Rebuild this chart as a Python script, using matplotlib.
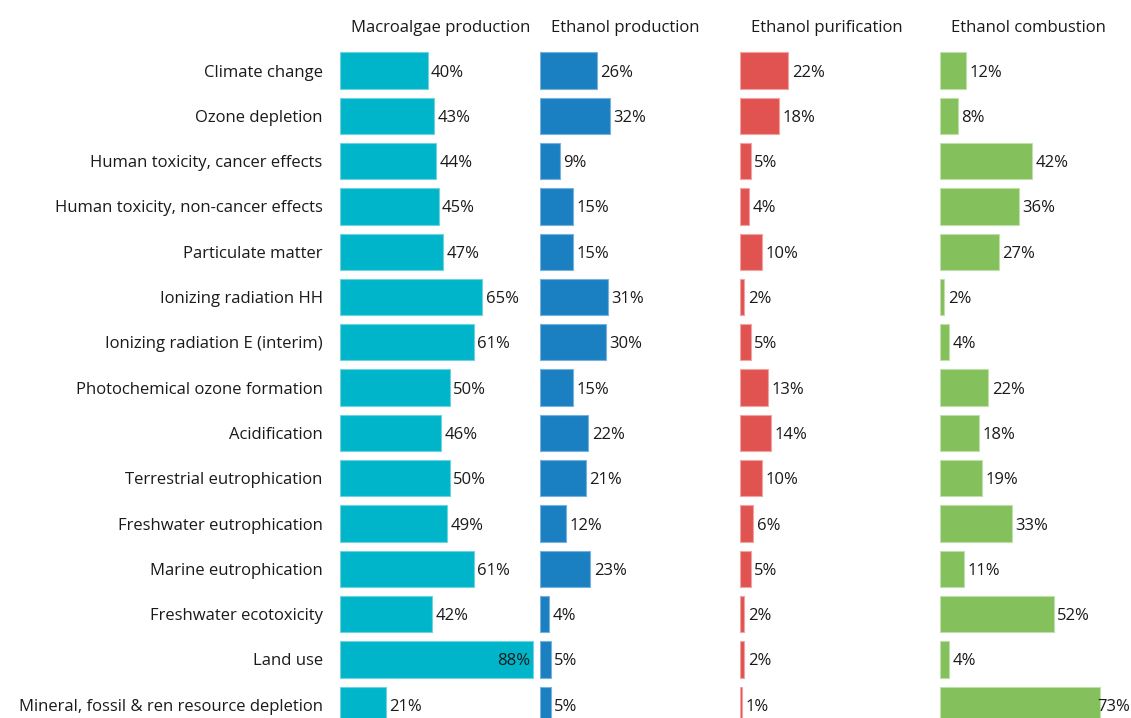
import matplotlib
matplotlib.use("Agg")
import matplotlib.pyplot as plt

plt.rcParams['font.family'] = ['Open Sans', 'DejaVu Sans']

categories = [
    "Climate change", "Ozone depletion", "Human toxicity, cancer effects",
    "Human toxicity, non-cancer effects", "Particulate matter",
    "Ionizing radiation HH", "Ionizing radiation E (interim)",
    "Photochemical ozone formation", "Acidification",
    "Terrestrial eutrophication", "Freshwater eutrophication",
    "Marine eutrophication", "Freshwater ecotoxicity", "Land use",
    "Mineral, fossil & ren resource depletion",
]
stages = ["Macroalgae production", "Ethanol production",
          "Ethanol purification", "Ethanol combustion"]
macroalgae_production = [40, 43, 44, 45, 47, 65, 61, 50, 46, 50, 49, 61, 42, 88, 21]
ethanol_production = [26, 32, 9, 15, 15, 31, 30, 15, 22, 21, 12, 23, 4, 5, 5]
ethanol_purification = [22, 18, 5, 4, 10, 2, 5, 13, 14, 10, 6, 5, 2, 2, 1]
ethanol_combustion = [12, 8, 42, 36, 27, 2, 4, 22, 18, 19, 33, 11, 52, 4, 73]
series = [macroalgae_production, ethanol_production,
          ethanol_purification, ethanol_combustion]
colors = ["#00B5CA", "#1B80C1", "#E05350", "#84C05B"]
edge_colors = ["#6FD3DE", "#78B2D9", "#F0A3A1", "#BFE0A8"]

W, H = 1131, 718
fig = plt.figure(figsize=(W / 100, H / 100), dpi=100)

n = len(categories)
row_h = 45.3
top_px = 70.5 - row_h / 2
bottom_px = top_px + n * row_h
panel_x0 = 340
panel_w = 200
px_per_unit = 2.19
xmax = panel_w / px_per_unit

label_fs = 12
txt_color = "#1a1a1a"
value_texts = []
for i, (name, vals, c, ec) in enumerate(zip(stages, series, colors, edge_colors)):
    left = (panel_x0 + i * panel_w) / W
    ax = fig.add_axes([left, (H - bottom_px) / H, panel_w / W, (bottom_px - top_px) / H])
    ypos = list(range(n))
    ax.barh(ypos, vals, height=0.8, color=c, edgecolor=ec, linewidth=0.8)
    ax.set_xlim(0, xmax)
    ax.set_ylim(n - 0.5, -0.5)
    ax.axis("off")
    for y, v in zip(ypos, vals):
        txt = f"{v}%"
        if v > 80:
            t = ax.annotate(txt, (v, y), xytext=(-2, -1.5), textcoords="offset points",
                            ha="right", va="center", fontsize=label_fs, color=txt_color)
        else:
            t = ax.annotate(txt, (v, y), xytext=(2.5, -1.5), textcoords="offset points",
                            ha="left", va="center", fontsize=label_fs, color=txt_color,
                            annotation_clip=False)
            value_texts.append(t)
    fig.text(left + 11 / W, 1 - 28 / H, name, ha="left", va="center",
             fontsize=label_fs, color=txt_color)
    if i == 0:
        for y, cat in zip(ypos, categories):
            ax.annotate(cat, (0, y), xytext=(-12.5, -1.5), textcoords="offset points",
                        ha="right", va="center", fontsize=label_fs, color=txt_color,
                        annotation_clip=False)

# keep value labels inside the figure's right edge
fig.canvas.draw()
renderer = fig.canvas.get_renderer()
for t in value_texts:
    bb = t.get_window_extent(renderer)
    overflow = bb.x1 - (W - 1)
    if overflow > 0:
        ox, oy = t.xyann
        t.xyann = (ox - overflow * 72 / 100, oy)

fig.savefig("out.png", dpi=100)
